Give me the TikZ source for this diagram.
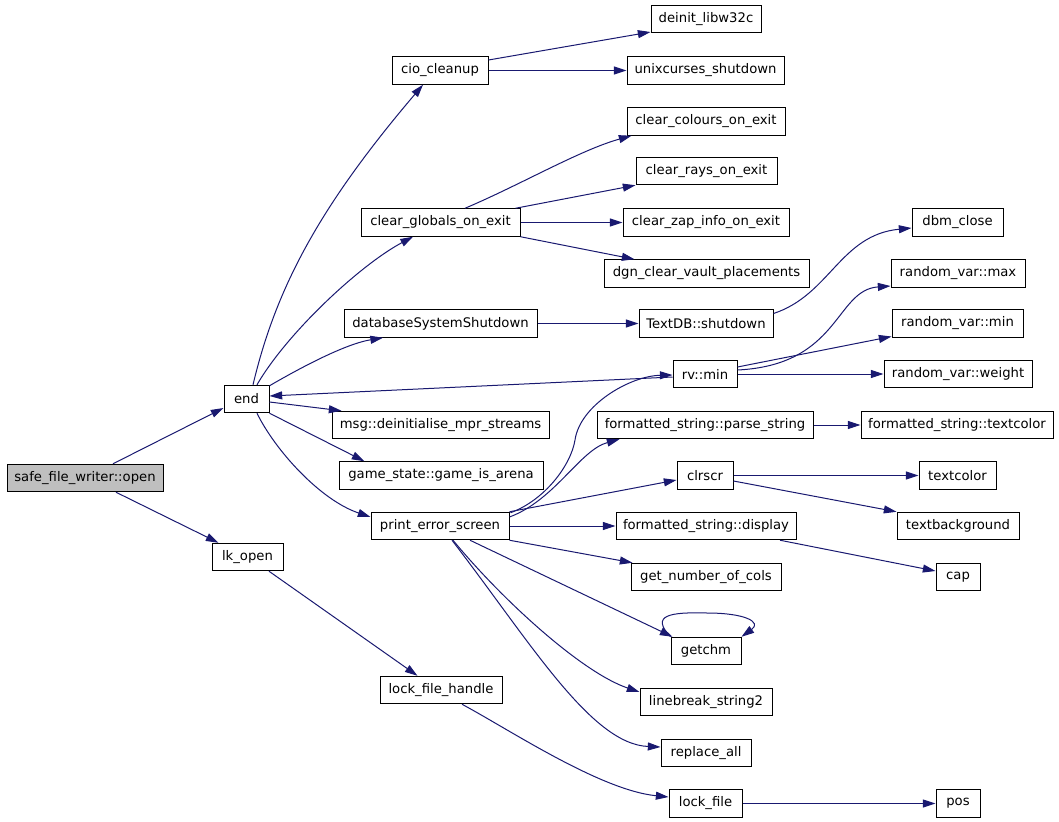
\documentclass[tikz,border=0pt]{standalone}
\usepackage{fontspec}
\setmainfont{DejaVu Sans}
\usetikzlibrary{arrows.meta,calc}
\definecolor{edgeblue}{HTML}{191970}
\definecolor{rootgray}{HTML}{BFBFBF}
\tikzset{
  box/.style={draw=black, line width=0.75pt, inner sep=0pt, minimum height=20.6pt,
    font=\fontsize{9.9pt}{12pt}\selectfont, fill=white},
  bw/.style={minimum width=#1*0.75pt},
  edge/.style={draw=edgeblue, line width=0.75pt,
    -{Triangle[length=9.5pt,width=6pt]}, color=edgeblue},
}
\begin{document}
\begin{tikzpicture}[x=0.75pt,y=-0.75pt]
\useasboundingbox (0,0) rectangle (1059,821);
% nodes
\node[box,bw=156,fill=rootgray] (sfw) at (85,478) {safe\_file\_writer::open};
\node[box,bw=45] (endn) at (246.5,399) {end};
\node[box,bw=71] (lk) at (247.5,557) {lk\_open};
\node[box,bw=110] (deinit) at (706,19) {deinit\_libw32c};
\node[box,bw=96] (cio) at (440,70.5) {cio\_cleanup};
\node[box,bw=157] (unix) at (705.5,70.5) {unixcurses\_shutdown};
\node[box,bw=158] (col) at (706,121.5) {clear\_colours\_on\_exit};
\node[box,bw=141] (rays) at (706.5,171) {clear\_rays\_on\_exit};
\node[box,bw=159] (glob) at (440.5,222.5) {clear\_globals\_on\_exit};
\node[box,bw=166] (zap) at (706,222.5) {clear\_zap\_info\_on\_exit};
\node[box,bw=205] (dgn) at (706.5,273.5) {dgn\_clear\_vault\_placements};
\node[box,bw=91] (dbm) at (957.5,222.5) {dbm\_close};
\node[box,bw=134] (rvmax) at (958,273.5) {random\_var::max};
\node[box,bw=193] (dbss) at (440.5,323.5) {databaseSystemShutdown};
\node[box,bw=134] (textdb) at (706,323.5) {TextDB::shutdown};
\node[box,bw=131] (rvarmin) at (957.5,323.5) {random\_var::min};
\node[box,bw=64] (rvmin) at (705,374) {rv::min};
\node[box,bw=148] (weight) at (958,374) {random\_var::weight};
\node[box,bw=217] (msg) at (440.5,425) {msg::deinitialise\_mpr\_streams};
\node[box,bw=216] (parse) at (705,425) {formatted\_string::parse\_string};
\node[box,bw=192] (fstc) at (957,425) {formatted\_string::textcolor};
\node[box,bw=204] (gsa) at (441,475.5) {game\_state::game\_is\_arena};
\node[box,bw=56] (clrscr) at (705,475.5) {clrscr};
\node[box,bw=77] (textcolor) at (957.5,475.5) {textcolor};
\node[box,bw=138] (pes) at (440,526) {print\_error\_screen};
\node[box,bw=180] (fsd) at (706,526) {formatted\_string::display};
\node[box,bw=122] (textbg) at (958,526) {textbackground};
\node[box,bw=150] (gnc) at (706,577) {get\_number\_of\_cols};
\node[box,bw=44] (cap) at (958,577) {cap};
\node[box,bw=70] (getchm) at (706,651) {getchm};
\node[box,bw=122] (lfh) at (441,690) {lock\_file\_handle};
\node[box,bw=132] (lb2) at (706,702) {linebreak\_string2};
\node[box,bw=90] (replace) at (706,753) {replace\_all};
\node[box,bw=73] (lockfile) at (705.5,803.5) {lock\_file};
\node[box,bw=44] (pos) at (958,803.5) {pos};
% edges
\draw[edge] ($(sfw.north)+(28,0)$) -- ($(endn.west)+(0,9)$);
\draw[edge] ($(sfw.south)+(31,0)$) -- ($(lk.north)+(-29,0)$);
\draw[edge] ($(endn.north)+(6.5,0)$) .. controls (276,288) and (319,207) .. ($(cio.south)+(-17,0)$);
\draw[edge] ($(endn.north)+(10.5,0)$) .. controls (287,333) and (360,265) .. ($(glob.south)+(-27.5,0)$);
\draw[edge] ($(endn.north east)+(0,1)$) .. controls (300,368) and (345,344) .. ($(dbss.south)+(-57.5,0)$);
\draw[edge] ($(rvmin.west)+(0,3)$) -- ($(endn.east)+(0,-3)$);
\draw[edge] ($(endn.east)+(0,3)$) -- ($(msg.north west)+(10,0)$);
\draw[edge] (endn.south east) -- ($(gsa.north west)+(26,0)$);
\draw[edge] ($(endn.south)+(10.5,0)$) .. controls (275,450) and (320,500) .. ($(pes.west)+(0,-9)$);
\draw[edge] ($(cio.east)+(0,-10.5)$) -- ($(deinit.west)+(0,13)$);
\draw[edge] (cio.east) -- (unix.west);
\draw[edge] ($(glob.north)+(24.5,0)$) .. controls (520,185) and (580,150) .. ($(col.south west)+(5,0)$);
\draw[edge] ($(glob.north east)+(-5,0)$) -- (rays.south west);
\draw[edge] (glob.east) -- (zap.west);
\draw[edge] (glob.south east) -- ($(dgn.north west)+(31,0)$);
\draw[edge] (dbss.east) -- (textdb.west);
\draw[edge] ($(textdb.east)+(0,-10)$) .. controls (830,295) and (840,235) .. ($(dbm.west)+(0,5.5)$);
\draw[edge] ($(rvmin.east)+(0,-4)$) .. controls (840,365) and (835,290) .. ($(rvmax.west)+(0,12.5)$);
\draw[edge] ($(rvmin.east)+(0,-7)$) -- ($(rvarmin.west)+(0,13)$);
\draw[edge] (rvmin.east) -- (weight.west);
\draw[edge] (parse.east) -- (fstc.west);
\draw[edge] ($(pes.north east)+(1,1)$) .. controls (545,500) and (571,465) .. (575,440) .. controls (580,405) and (630,376) .. ($(rvmin.west)+(0,1)$);
\draw[edge] ($(pes.east)+(0,-9)$) .. controls (555,500) and (580,450) .. ($(parse.south west)+(23,0)$);
\draw[edge] (pes.north east) -- ($(clrscr.west)+(0,4.5)$);
\draw[edge] (pes.east) -- (fsd.west);
\draw[edge] (pes.south east) -- ($(gnc.north west)+(2,0)$);
\draw[edge] ($(pes.south)+(30,0)$) -- ($(getchm.north west)+(2,0)$);
\draw[edge] ($(pes.south)+(13,0)$) .. controls (504,602) and (583,673) .. ($(lb2.west)+(0,-10)$);
\draw[edge] ($(pes.south)+(12,0)$) .. controls (531,643) and (591,744) .. ($(replace.west)+(0,-6)$);
\draw[edge] (getchm.north west) .. controls (650,615) and (670,612) .. (707,613) .. controls (745,613) and (762,622) .. (getchm.north east);
\draw[edge] (clrscr.east) -- (textcolor.west);
\draw[edge] ($(clrscr.east)+(0,5.5)$) -- (textbg.north west);
\draw[edge] ($(fsd.south)+(74,0)$) -- ($(cap.west)+(0,-6)$);
\draw[edge] ($(lk.south)+(21.5,0)$) -- ($(lfh.north west)+(38,0)$);
\draw[edge] ($(lfh.south)+(21,0)$) .. controls (510,730) and (600,790) .. ($(lockfile.west)+(0,-6.5)$);
\draw[edge] (lockfile.east) -- (pos.west);
\end{tikzpicture}
\end{document}
